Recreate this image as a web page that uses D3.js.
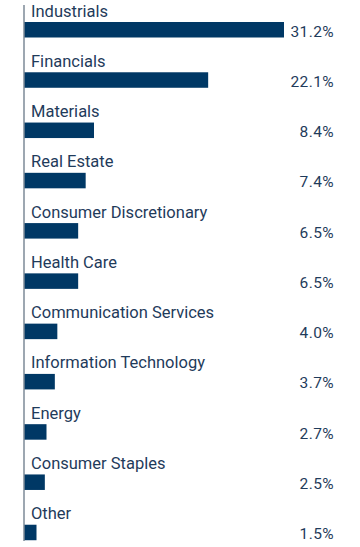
<!DOCTYPE html>
<html>
<head>
<meta charset="utf-8">
<script src="https://cdn.jsdelivr.net/npm/d3@7"></script>
<style>
  body { margin: 0; background: #fff; }
  svg { display: block; font-family: Roboto, sans-serif; }
</style>
</head>
<body>
<div id="chart"></div>
<script>
    // sector weights
    var sectors = ["Industrials", "Financials", "Materials", "Real Estate", "Consumer Discretionary",
        "Health Care", "Communication Services", "Information Technology", "Energy",
        "Consumer Staples", "Other"];
    var weights = [31.2, 22.1, 8.4, 7.4, 6.5, 6.5, 4.0, 3.7, 2.7, 2.5, 1.5];

    var w = 360;
    var h = 547;
    var left = 24;

    var data = sectors.map(function (s, i) { return { name: s, value: weights[i] }; });

    var svg = d3.select("#chart")
        .append("svg")
        .attr("width", w)
        .attr("height", h);

    var x = d3.scaleLinear()
        .domain([0, 31.2])
        .range([left, 284]);

    var y = d3.scaleBand()
        .domain(sectors)
        .range([0, 553]);

    var rows = svg.selectAll("g.row")
        .data(data)
        .enter()
        .append("g")
        .attr("class", "row")
        .attr("transform", function (d) { return "translate(0," + y(d.name) + ")"; });

    rows.append("rect")
        .attr("x", x(0))
        .attr("y", 22)
        .attr("width", function (d) { return x(d.value) - x(0); })
        .attr("height", 15.5)
        .style("fill", "#003865");

    rows.append("text")
        .text(function (d) { return d.name; })
        .attr("x", 31)
        .attr("y", 16.5)
        .style("font-size", "16.5px")
        .style("fill", "#1f3b5b");

    rows.append("text")
        .text(function (d) { return d.value.toFixed(1) + "%"; })
        .attr("x", 334)
        .attr("y", 36.5)
        .attr("text-anchor", "end")
        .style("font-size", "15.5px")
        .style("letter-spacing", "0.4px")
        .style("fill", "#1f3b5b");

    // axis line
    svg.append("line")
        .attr("x1", left)
        .attr("x2", left)
        .attr("y1", 5)
        .attr("y2", 541)
        .style("stroke", "#7d8a97")
        .style("stroke-width", 1.5);
</script>
</body>
</html>
